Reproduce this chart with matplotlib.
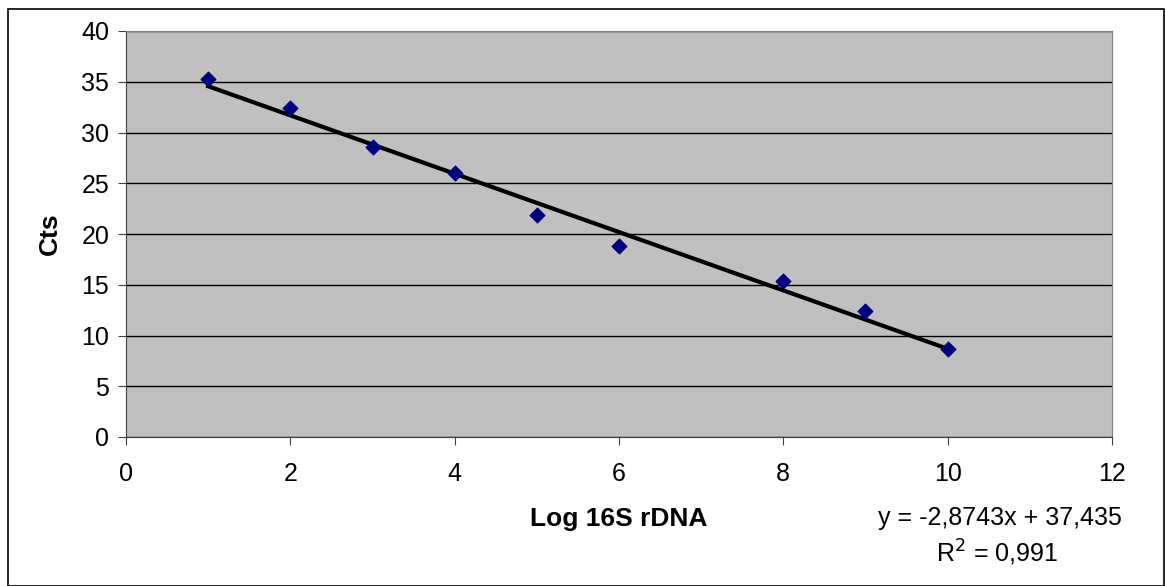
import numpy as np
import matplotlib.pyplot as plt
from matplotlib.patches import Rectangle

# data
log_dna = [1, 2, 3, 4, 5, 6, 8, 9, 10]
cts = [35.3, 32.4, 28.6, 26.0, 21.9, 18.8, 15.4, 12.4, 8.7]
slope = -2.8743
intercept = 37.435
r2 = 0.991

plt.rcParams['font.family'] = ['Liberation Sans', 'DejaVu Sans']

W, H = 1165, 586
fig = plt.figure(figsize=(W / 100, H / 100), dpi=100)
ax = fig.add_axes([126 / W, 1 - 437 / H, (1112 - 126) / W, (437 - 31) / H])
ax.set_facecolor('#C0C0C0')

# trend line
xt = np.array([log_dna[0], log_dna[-1]])
ax.plot(xt, slope * xt + intercept, color='black', lw=3, zorder=3)
ax.scatter(log_dna, cts, marker='D', s=55, color='#000080', zorder=4)

ax.set_xlim(0, 12)
ax.set_ylim(0, 40)
ax.set_xticks(range(0, 13, 2))
ax.set_yticks(range(0, 41, 5))
ax.yaxis.grid(True, color='black', lw=1)
ax.set_axisbelow(True)
for s in ax.spines.values():
    s.set_color('#808080')
ax.spines['left'].set_color('#404040')
ax.spines['bottom'].set_color('#404040')
ax.tick_params(labelsize=18, color='#404040', length=6, direction='out')
ax.tick_params(axis='x', pad=12)
ax.tick_params(axis='y', pad=6)

ax.set_xlabel('Log 16S rDNA', fontsize=19, fontweight='bold')
ax.xaxis.set_label_coords((619 - 126) / (1112 - 126), -(507 - 437) / (437 - 31))
ax.set_ylabel('Cts', fontsize=19, fontweight='bold', labelpad=14)

fig.text(1122 / W, 1 - 518 / H, f'y = {slope:.4f}x + {intercept:.3f}'.replace('.', ','),
         fontsize=18, ha='right', va='center')
fig.text(997 / W, 1 - 553 / H, f'R$^2$ = {r2:.3f}'.replace('.', ','),
         fontsize=18, ha='center', va='center')

fig.patches.append(Rectangle((8 / W, 0), 1 - 9 / W, 1 - 9 / H, transform=fig.transFigure,
                             fill=False, edgecolor='black', lw=1.2))

fig.savefig('out.png', dpi=100)
